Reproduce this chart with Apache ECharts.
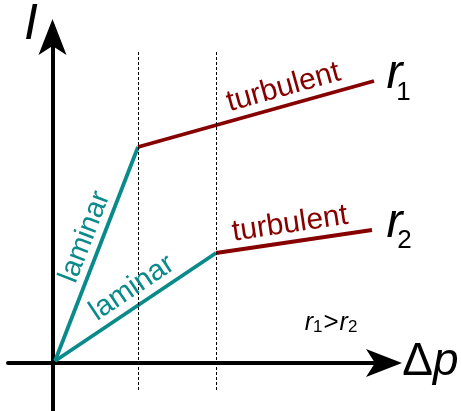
<!DOCTYPE html>
<html><head><meta charset="utf-8">
<script src="https://cdn.jsdelivr.net/npm/echarts@6/dist/echarts.min.js"></script>
<style>html,body{margin:0;padding:0;background:#fff}#c{width:462px;height:411px}</style>
</head><body><div id="c"></div>
<script>
// data (units: arbitrary)
const r1Points = [[2.5, 2], [85.5, 216], [321.5, 282]];
const r2Points = [[2.5, 2], [163.5, 110], [319.5, 133]];
const transitionX = [85.5, 163.5];
const lamR1 = r1Points.slice(0, 2), turbR1 = r1Points.slice(1);
const lamR2 = r2Points.slice(0, 2), turbR2 = r2Points.slice(1);

const TEAL = '#0a8a8a', RED = '#870000';
const FONT = "'Liberation Sans', Arial, sans-serif";

function lineSeries(data, color) {
  return { type: 'line', data: data, symbol: 'none', silent: true,
    lineStyle: { color: color, width: 3.8, cap: 'butt', join: 'round' }, z: 3 };
}
function txt(coord, text, opts) {
  return { value: coord, itemStyle: { opacity: 1 },
    label: Object.assign({ show: true, formatter: text, position: 'inside',
    align: 'center', verticalAlign: 'middle', fontFamily: FONT, opacity: 1,
    textBorderWidth: 0, textBorderColor: 'transparent', textShadowBlur: 0 }, opts) };
}

const chart = echarts.init(document.getElementById('c'), null, { renderer: 'canvas' });
chart.setOption({
  animation: false,
  grid: { left: 8, right: 67, top: 26, bottom: 0 },
  xAxis: { type: 'value', min: -44.5, max: 342.5, splitLine: { show: false },
    axisTick: { show: false }, axisLabel: { show: false },
    axisLine: { onZero: true, lineStyle: { color: '#000', width: 4 },
      symbol: ['none', 'arrow'], symbolSize: [21, 36], symbolOffset: [0, 7] } },
  yAxis: { type: 'value', min: -48, max: 337, splitLine: { show: false },
    axisTick: { show: false }, axisLabel: { show: false },
    axisLine: { onZero: true, lineStyle: { color: '#000', width: 4 },
      symbol: ['none', 'arrow'], symbolSize: [21, 36], symbolOffset: [0, 7] } },
  series: [
    { type: 'line', data: [], silent: true,
      markLine: { silent: true, symbol: 'none', label: { show: false },
        lineStyle: { color: '#000', width: 1, type: [3, 2] },
        data: transitionX.map(x => [{ coord: [x, -27] }, { coord: [x, 313] }]) } },
    lineSeries(lamR1, TEAL), lineSeries(lamR2, TEAL),
    lineSeries(turbR1, RED), lineSeries(turbR2, RED),
    { type: 'scatter', symbolSize: 0, clip: false, silent: true, z: 5,
      itemStyle: { opacity: 1 },
      data: [
        txt([231, 275.5], 'turbulent', { color: RED, fontSize: 30, rotate: 15.6 }),
        txt([237.5, 139], 'turbulent', { color: RED, fontSize: 30, rotate: 8.4 }),
        txt([32.5, 126], 'laminar', { color: TEAL, fontSize: 29, rotate: 68.8 }),
        txt([79.5, 75], 'laminar', { color: TEAL, fontSize: 29, rotate: 33.9 }),
        txt([-21.5, 338], 'I', { color: '#000', fontSize: 50, fontStyle: 'italic' }),
        txt([342, 288.5], 'r', { color: '#000', fontSize: 48, fontStyle: 'italic' }),
        txt([351, 270.5], '1', { color: '#000', fontSize: 26 }),
        txt([342, 139.5], 'r', { color: '#000', fontSize: 48, fontStyle: 'italic' }),
        txt([352, 122], '2', { color: '#000', fontSize: 26 }),
        txt([378, 1], '{d|Δ}{p|p}', { color: '#000', rich: {
          d: { fontSize: 46, fontFamily: FONT, color: '#000' },
          p: { fontSize: 46, fontFamily: FONT, fontStyle: 'italic', color: '#000' } } }),
        txt([279, 40], '{i|r}{s|1}{n|>}{i|r}{s|2}', { color: '#000', rich: {
          i: { fontSize: 25, lineHeight: 25, fontFamily: FONT, fontStyle: 'italic', color: '#000' },
          s: { fontSize: 17, lineHeight: 15, fontFamily: FONT, verticalAlign: 'bottom', color: '#000', padding: [0, 1, 0, 0] },
          n: { fontSize: 26, lineHeight: 25, fontFamily: FONT, color: '#000', padding: [0, 1, 0, 0] } } })
      ] }
  ]
});
</script></body></html>
